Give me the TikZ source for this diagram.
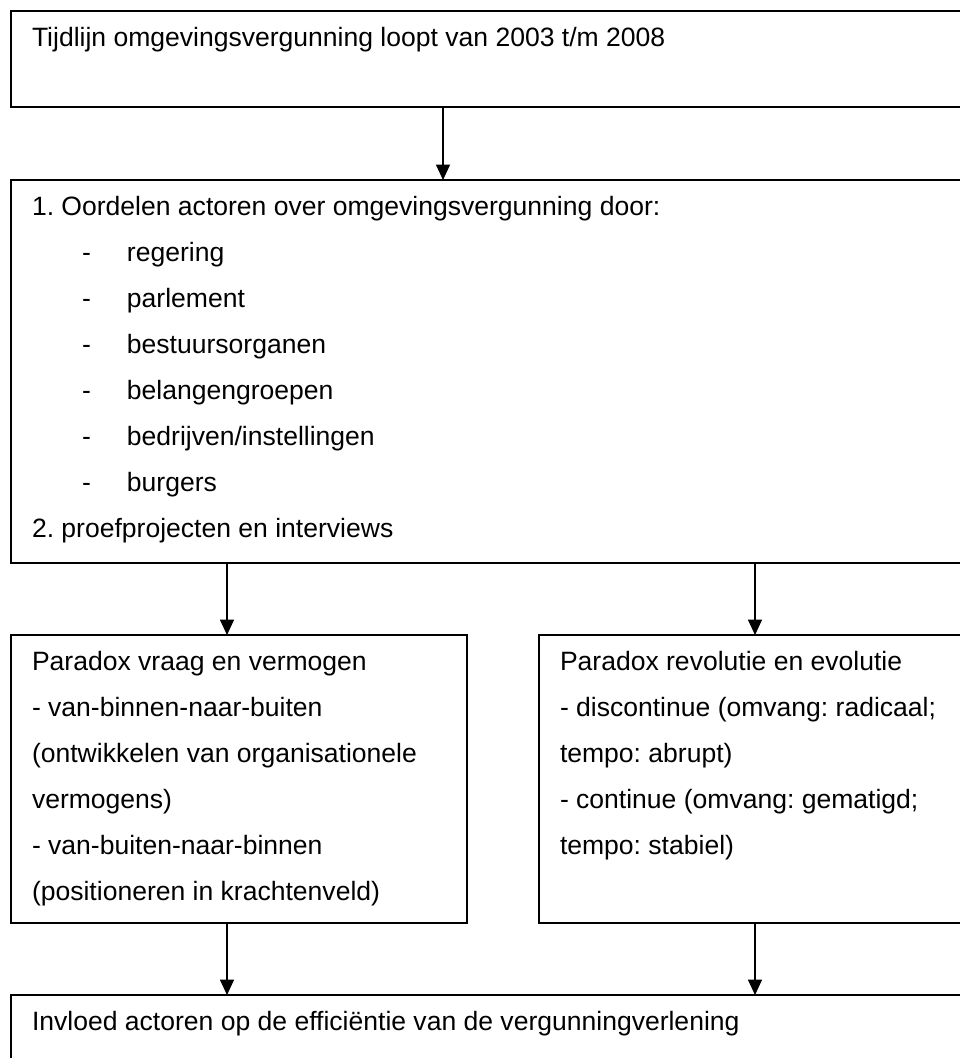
\documentclass[tikz,border=0pt]{standalone}
\usepackage{fontspec}
\setmainfont{Liberation Sans}
\usetikzlibrary{positioning, arrows.meta, calc}
\frenchspacing

\newcommand{\actor}[1]{\hspace*{37.5pt}\makebox[33.75pt][l]{-}#1}
\newcommand{\blokTekst}[3]{\parbox[t][#2][t]{#1}{\raggedright\rule{0pt}{26.25pt}#3}}

\tikzset{
  blok/.style={draw, line width=1.1pt, anchor=north west, inner xsep=15.75pt, inner ysep=0pt, outer sep=0pt, font=\fontsize{19.9pt}{34.5pt}\selectfont},
  pijl/.style={-{Triangle[width=10.5pt,length=11.5pt]}, line width=0.9pt}
}

\begin{document}
\begin{tikzpicture}[x=0.75pt, y=-0.75pt]
    \useasboundingbox (0,0) rectangle (960,1058);
    % Tijdlijn
    \node[blok] (tijd) at (11,11) {\blokTekst{728.5pt}{72pt}{Tijdlijn omgevingsvergunning loopt van 2003 t/m 2008}};
    % Oordelen actoren
    \node[blok] (oordeel) at (11,180) {\blokTekst{728.5pt}{287.25pt}{1. Oordelen actoren over omgevingsvergunning door:\\
      \actor{regering}\\
      \actor{parlement}\\
      \actor{bestuursorganen}\\
      \actor{belangengroepen}\\
      \actor{bedrijven/instellingen}\\
      \actor{burgers}\\
      2. proefprojecten en interviews}};
    % Paradoxen
    \node[blok] (vraag) at (11,635) {\blokTekst{310.5pt}{216pt}{Paradox vraag en vermogen\\
      - van-binnen-naar-buiten\\
      (ontwikkelen van organisationele\\
      vermogens)\\
      - van-buiten-naar-binnen\\
      (positioneren in krachtenveld)}};
    \node[blok] (revol) at (539,635) {\blokTekst{328.5pt}{216pt}{Paradox revolutie en evolutie\\
      - discontinue (omvang: radicaal;\\
      tempo: abrupt)\\
      - continue (omvang: gematigd;\\
      tempo: stabiel)}};
    % Invloed
    \node[blok] (invloed) at (11,995) {\blokTekst{728.5pt}{90pt}{Invloed actoren op de efficiëntie van de vergunningverlening}};
    % Pijlen
    \draw[pijl] ($(tijd.south west)+(432,0)$) -- ($(oordeel.north west)+(432,0)$);
    \draw[pijl] ($(oordeel.south west)+(216,0)$) -- ($(vraag.north west)+(216,0)$);
    \draw[pijl] ($(oordeel.south west)+(744,0)$) -- ($(revol.north west)+(216,0)$);
    \draw[pijl] ($(vraag.south west)+(216,0)$) -- ($(invloed.north west)+(216,0)$);
    \draw[pijl] ($(revol.south west)+(216,0)$) -- ($(invloed.north west)+(744,0)$);
\end{tikzpicture}
\end{document}
